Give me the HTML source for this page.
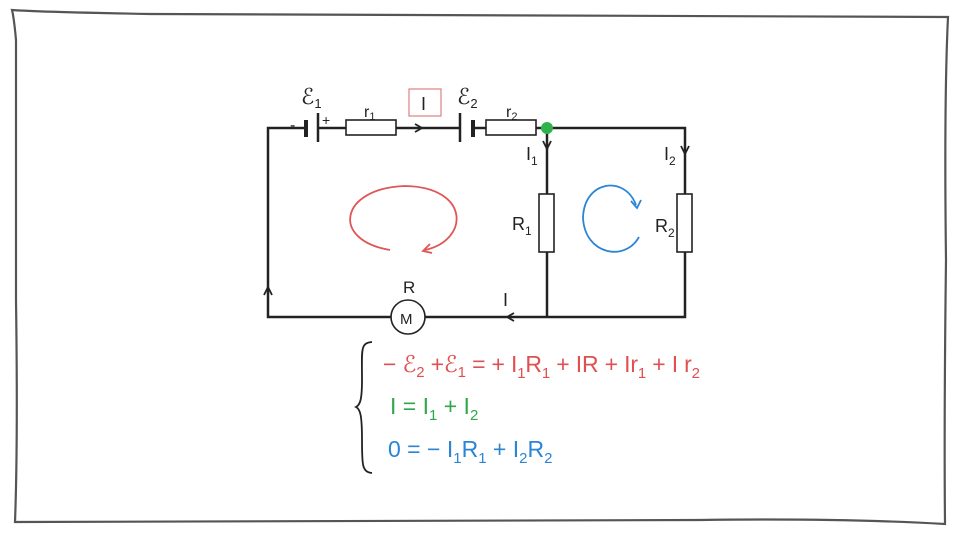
<!DOCTYPE html>
<html><head><meta charset="utf-8"><style>
html,body{margin:0;padding:0;background:#fff;}
svg{display:block;}
text{font-family:"Liberation Sans",sans-serif;}
</style></head><body>
<svg width="960" height="540" viewBox="0 0 960 540" xmlns="http://www.w3.org/2000/svg">
<path d="M12,10 Q40,12 150,14 Q500,16 948,17 Q944,100 946,260 Q944,420 945,524 Q840,518 700,520 Q400,522 15,522 Q18,440 16,300 Q16,100 16,40 Q14,18 12,10 Z" fill="none" stroke="#555" stroke-width="2.2"/>
<g stroke="#222" stroke-width="2.5" fill="none">
<path d="M306,128 H268 V317 H391 M425,317 H685 V252 M685,194 V128 H547 M547,128 V194 M547,252 V317"/>
<path d="M318,128 H346 M396,128 H460 M473,128 H486 M536,128 H547"/>
<line x1="306" y1="120" x2="306" y2="137" stroke-width="4"/>
<line x1="318" y1="113" x2="318" y2="142"/>
<line x1="460" y1="113" x2="460" y2="142"/>
<line x1="473" y1="120" x2="473" y2="137" stroke-width="4"/>
</g>
<g stroke="#222" stroke-width="1.6" fill="#fff">
<rect x="346" y="120" width="50" height="15"/>
<rect x="486" y="120" width="50" height="15"/>
<rect x="539" y="194" width="15" height="58"/>
<rect x="677" y="194" width="15" height="58"/>
<circle cx="408" cy="317" r="17"/>
</g>
<g stroke="#222" stroke-width="1.8" fill="none">
<path d="M415,124 L422,128 L415,132"/>
<path d="M543,141 L547,149 L551,141"/>
<path d="M681,146 L685,154 L689,146"/>
<path d="M514,313 L507,317 L514,321"/>
<path d="M264,295 L268,287 L272,295"/>
</g>
<circle cx="547" cy="128" r="6" fill="#2db34a"/>
<rect x="409" y="89" width="32" height="27" fill="none" stroke="#e08080" stroke-width="1.2"/>
<g fill="#222" font-size="22">
<text x="301" y="104">ℰ<tspan font-size="13" dy="4">1</tspan></text>
<text x="457" y="104">ℰ<tspan font-size="13" dy="4">2</tspan></text>
<text x="364" y="117" font-size="16">r<tspan font-size="11" dy="3">1</tspan></text>
<text x="506" y="117" font-size="16">r<tspan font-size="11" dy="3">2</tspan></text>
<text x="421" y="110" font-size="18">I</text>
<text x="290" y="130" font-size="16">-</text>
<text x="322" y="125" font-size="14">+</text>
<text x="526" y="160" font-size="18">I<tspan font-size="12" dy="5">1</tspan></text>
<text x="664" y="160" font-size="18">I<tspan font-size="12" dy="5">2</tspan></text>
<text x="512" y="230" font-size="18">R<tspan font-size="12" dy="5">1</tspan></text>
<text x="655" y="232" font-size="18">R<tspan font-size="12" dy="5">2</tspan></text>
<text x="403" y="293" font-size="17">R</text>
<text x="400" y="324" font-size="15">M</text>
<text x="503" y="306" font-size="18">I</text>
</g>
<path d="M390,250 C330,240 340,188 405,186 C470,187 470,240 425,250" fill="none" stroke="#e05555" stroke-width="1.8"/>
<path d="M430,244 L423,251 L432,253" fill="none" stroke="#e05555" stroke-width="1.8"/>
<path d="M639,237 C625,262 585,255 583,218 C584,180 625,175 636,205" fill="none" stroke="#2a85d6" stroke-width="1.8"/>
<path d="M631,201 L637,208 L641,200" fill="none" stroke="#2a85d6" stroke-width="1.8"/>
<path d="M372,342 C360,343 362,350 362,380 C362,400 360,405 356,407 C360,409 362,414 362,440 C362,465 362,472 372,473" fill="none" stroke="#222" stroke-width="1.8"/>
<g font-size="23">
<text x="383" y="372" fill="#e05050" textLength="317" lengthAdjust="spacing">− ℰ<tspan font-size="15" dy="5">2</tspan><tspan dy="-5"> +ℰ</tspan><tspan font-size="15" dy="5">1</tspan><tspan dy="-5"> = + I</tspan><tspan font-size="15" dy="6">1</tspan><tspan dy="-6">R</tspan><tspan font-size="15" dy="6">1</tspan><tspan dy="-6"> + IR + Ir</tspan><tspan font-size="15" dy="6">1</tspan><tspan dy="-6"> + I r</tspan><tspan font-size="15" dy="6">2</tspan></text>
<text x="390" y="414" fill="#2ea84a">I = I<tspan font-size="15" dy="6">1</tspan><tspan dy="-6"> + I</tspan><tspan font-size="15" dy="6">2</tspan></text>
<text x="388" y="457" fill="#2a85d6">0 = − I<tspan font-size="15" dy="6">1</tspan><tspan dy="-6">R</tspan><tspan font-size="15" dy="6">1</tspan><tspan dy="-6"> + I</tspan><tspan font-size="15" dy="6">2</tspan><tspan dy="-6">R</tspan><tspan font-size="15" dy="6">2</tspan></text>
</g>
</svg>
</body></html>
